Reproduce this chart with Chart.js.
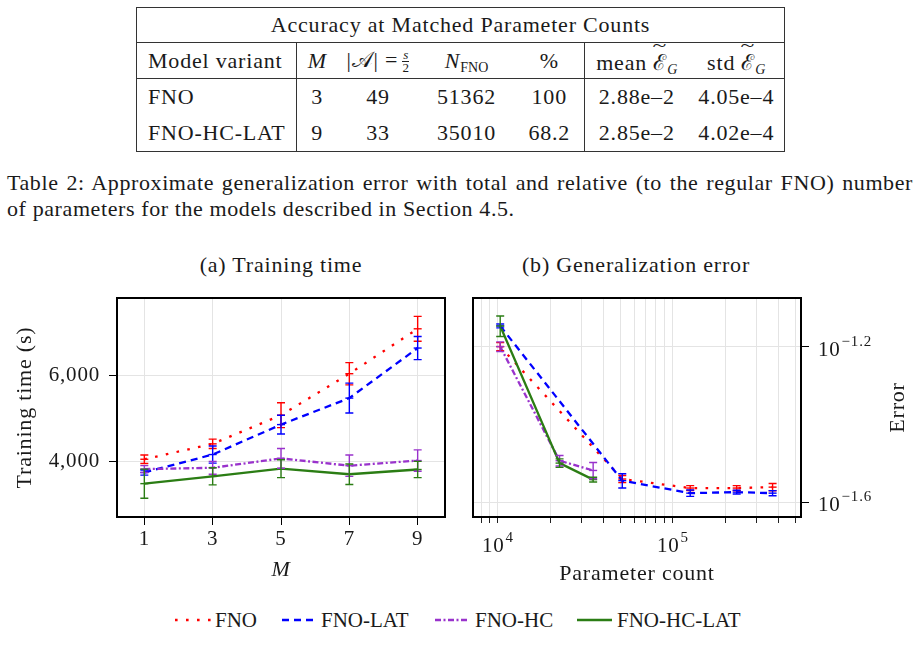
<!DOCTYPE html>
<html>
<head>
<meta charset="utf-8">
<script src="https://cdn.jsdelivr.net/npm/chart.js@4.4.0/dist/chart.umd.min.js"></script>
<style>
  body { margin: 0; width: 918px; height: 661px; background: #fff; position: relative; overflow: hidden;
         font-family: "Liberation Serif", serif; color: #1a1a1a; }
  .abs { position: absolute; }
  table { border-collapse: collapse; font-size: 22px; letter-spacing: 0.8px; table-layout: fixed; }
  td { padding: 0; text-align: center; white-space: nowrap; }
  .tb { border: 1px solid #333; }
  .lft { text-align: left; padding-left: 11px; }
  .vr { border-right: 1px solid #333; }
  .hb { border-bottom: 1px solid #333; }
  sub { font-size: 14px; vertical-align: -4px; line-height: 0; letter-spacing: 0; }
  .fr { display: inline-block; vertical-align: middle; font-size: 13px; line-height: 12px; text-align: center; margin-left: 4px; letter-spacing: 0; }
  .fr i { display: block; border-bottom: 1px solid #222; padding: 0 1px; }
  .fr span { display: block; }
  .tl { position: relative; display: inline-block; }
  .tl::after { content: "~"; position: absolute; left: 0; right: 0; top: -10px; text-align: center; font-size: 17px; transform: scaleX(1.5); }
  #caption { left: 7px; top: 170px; width: 906px; font-size: 22px; line-height: 26px; letter-spacing: 0.6px; }
  #caption .l1 { text-align: justify; text-align-last: justify; }
  .sub-title { font-size: 22px; letter-spacing: 0.8px; top: 252px; white-space: nowrap; transform: translateX(-50%); }
  canvas { position: absolute; }
  .leg { top: 607px; height: 26px; font-size: 21px; line-height: 26px; white-space: nowrap; }
  .leg svg { position: absolute; top: 0; }
</style>
</head>
<body>

<table class="abs tb" style="left:136px; top:7px; width:648px;">
  <colgroup>
    <col style="width:160px"><col style="width:41px"><col style="width:81px"><col style="width:96px">
    <col style="width:70px"><col style="width:104px"><col style="width:96px">
  </colgroup>
  <tr style="height:35px"><td colspan="7" class="hb">Accuracy at Matched Parameter Counts</td></tr>
  <tr style="height:36px" class="hb">
    <td class="lft vr hb">Model variant</td>
    <td class="hb"><i>M</i></td>
    <td class="hb">|𝒜| =<span class="fr"><i>s</i><span>2</span></span></td>
    <td class="hb"><i>N</i><sub>FNO</sub></td>
    <td class="vr hb">%</td>
    <td class="hb">mean <span class="tl">ℰ</span><sub><i>G</i></sub></td>
    <td class="hb">std <span class="tl">ℰ</span><sub><i>G</i></sub></td>
  </tr>
  <tr style="height:36px">
    <td class="lft vr">FNO</td><td>3</td><td>49</td><td>51362</td><td class="vr">100</td><td>2.88e–2</td><td>4.05e–4</td>
  </tr>
  <tr style="height:37px">
    <td class="lft vr">FNO-HC-LAT</td><td>9</td><td>33</td><td>35010</td><td class="vr">68.2</td><td>2.85e–2</td><td>4.02e–4</td>
  </tr>
</table>

<div id="caption" class="abs">
  <div class="l1">Table 2: Approximate generalization error with total and relative (to the regular FNO) number</div>
  <div>of parameters for the models described in Section 4.5.</div>
</div>

<div class="abs sub-title" style="left:281px;">(a) Training time</div>
<div class="abs sub-title" style="left:636px;">(b) Generalization error</div>

<canvas id="timeChart" width="460" height="305" style="left:0; top:285px;"></canvas>
<canvas id="errorChart" width="458" height="305" style="left:460px; top:285px;"></canvas>

<div class="abs leg" style="left:172px;">
  <svg width="40" height="26" style="left:0"><line x1="3" y1="13" x2="40" y2="13" stroke="#ff0000" stroke-width="2.6" stroke-dasharray="2.6 8.4"/></svg>
  <span style="position:absolute; left:43px;">FNO</span>
</div>
<div class="abs leg" style="left:282px;">
  <svg width="32" height="26" style="left:0"><line x1="0" y1="13" x2="31" y2="13" stroke="#0000ff" stroke-width="2.6" stroke-dasharray="7 5"/></svg>
  <span style="position:absolute; left:39px;">FNO-LAT</span>
</div>
<div class="abs leg" style="left:435px;">
  <svg width="35" height="26" style="left:0"><line x1="0" y1="13" x2="34" y2="13" stroke="#9932cc" stroke-width="2.6" stroke-dasharray="6 2.5 2 2.5"/></svg>
  <span style="position:absolute; left:40px;">FNO-HC</span>
</div>
<div class="abs leg" style="left:577px;">
  <svg width="36" height="26" style="left:0"><line x1="0" y1="13" x2="35" y2="13" stroke="#2b7d14" stroke-width="2.6"/></svg>
  <span style="position:absolute; left:40px;">FNO-HC-LAT</span>
</div>

<script>
// (a) temps d'entraînement en fonction de M
var mValues = [1, 3, 5, 7, 9];
var timeTicks = [4000, 6000];
var timeFNO = [4050, 4410, 5080, 6050, 7100];
var timeFNOErr = [100, 110, 290, 260, 290];
var timeLAT = [3740, 4160, 4860, 5480, 6650];
var timeLATErr = [60, 200, 220, 350, 270];
var timeHC = [3820, 3850, 4070, 3900, 4020];
var timeHCErr = [80, 150, 230, 250, 250];
var timeHCLAT = [3480, 3650, 3830, 3700, 3810];
var timeHCLATErr = [340, 200, 210, 240, 190];

// (b) erreur de généralisation en fonction du nombre de paramètres
var paramsFNO = [10300, 51362, 125600, 231600, 371500];
var paramsHC = [10300, 22500, 35010];
var errFNO = [0.0631, 0.0288, 0.0273, 0.0273, 0.02745];
var errFNOStd = [0.0015, 0.0006, 0.0004, 0.0004, 0.0006];
var errLAT = [0.0713, 0.02852, 0.02649, 0.02665, 0.02649];
var errLATStd = [0.0008, 0.0012, 0.0005, 0.0003, 0.0004];
var errHC = [0.0631, 0.0321, 0.0303];
var errHCStd = [0.0018, 0.001, 0.00145];
var errHCLAT = [0.0713, 0.03165, 0.0287];
var errHCLATStd = [0.0043, 0.0008, 0.0004];
var xTickExps = [4, 5];
var yTickExps = [-1.2, -1.6];

var RED = '#ff0000', BLUE = '#0000ff', PURPLE = '#9932cc', GREEN = '#2b7d14';
var SERIF = '"Liberation Serif", serif';
var GRID = '#e4e4e4';

Chart.defaults.font.family = SERIF;
Chart.defaults.font.size = 21;
Chart.defaults.color = '#1a1a1a';

function pts(xs, ys) {
    return xs.map(function (x, i) { return { x: x, y: ys[i] }; });
}

function serie(label, xs, ys, errs, color, dash, order) {
    return {
        label: label,
        data: pts(xs, ys),
        errors: errs,
        showLine: true,
        borderColor: color,
        backgroundColor: color,
        borderWidth: 2.3,
        borderDash: dash,
        pointStyle: 'line',
        pointRadius: 4,
        pointBorderWidth: 1.4,
        pointBorderColor: color,
        order: order
    };
}

// un peu d'espacement des lettres, comme la police LaTeX
var spacing = {
    id: 'spacing',
    beforeDraw: function (chart) { chart.ctx.letterSpacing = '0.8px'; }
};

// cadre noir autour de la zone de tracé
var frame = {
    id: 'frame',
    beforeDatasetsDraw: function (chart) {
        var a = chart.chartArea, ctx = chart.ctx;
        ctx.save();
        ctx.strokeStyle = '#000';
        ctx.lineWidth = 2;
        ctx.strokeRect(a.left, a.top, a.right - a.left, a.bottom - a.top);
        ctx.restore();
    }
};

// barres d'erreur (moyenne +/- écart type)
var errorBars = {
    id: 'errorBars',
    afterDatasetsDraw: function (chart) {
        var ctx = chart.ctx, xs = chart.scales.x, ys = chart.scales.y;
        chart.data.datasets.forEach(function (ds) {
            ctx.save();
            ctx.strokeStyle = ds.borderColor;
            ctx.lineWidth = 1.4;
            ctx.setLineDash([]);
            ds.data.forEach(function (p, i) {
                var e = ds.errors[i];
                var x = xs.getPixelForValue(p.x);
                var y1 = ys.getPixelForValue(p.y + e);
                var y2 = ys.getPixelForValue(p.y - e);
                ctx.beginPath();
                ctx.moveTo(x, y1); ctx.lineTo(x, y2);
                ctx.moveTo(x - 4, y1); ctx.lineTo(x + 4, y1);
                ctx.moveTo(x - 4, y2); ctx.lineTo(x + 4, y2);
                ctx.stroke();
            });
            ctx.restore();
        });
    }
};

function fmtExp(e) {
    return String(e).replace('-', '\u2212');
}

function drawPow(ctx, exp, x, y, align) {
    ctx.save();
    ctx.fillStyle = '#1a1a1a';
    ctx.textBaseline = 'alphabetic';
    ctx.textAlign = 'left';
    ctx.font = '21px ' + SERIF;
    var wb = ctx.measureText('10').width;
    ctx.font = '15px ' + SERIF;
    var s = fmtExp(exp);
    var we = ctx.measureText(s).width;
    var x0 = align === 'center' ? x - (wb + we + 1) / 2 : x;
    ctx.font = '21px ' + SERIF;
    ctx.fillText('10', x0, y);
    ctx.font = '15px ' + SERIF;
    ctx.fillText(s, x0 + wb + 1, y - 10);
    ctx.restore();
}

var powLabels = {
    id: 'powLabels',
    afterDraw: function (chart) {
        var ctx = chart.ctx, xs = chart.scales.x, ys = chart.scales.y, a = chart.chartArea;
        xTickExps.forEach(function (e) {
            drawPow(ctx, e, xs.getPixelForValue(Math.pow(10, e)), a.bottom + 35, 'center');
        });
        yTickExps.forEach(function (e) {
            drawPow(ctx, e, a.right + 17, ys.getPixelForValue(Math.pow(10, e)) + 9, 'left');
        });
        ctx.save();
        ctx.translate(a.right + 97, (a.top + a.bottom) / 2);
        ctx.rotate(-Math.PI / 2);
        ctx.font = '22px ' + SERIF;
        ctx.fillStyle = '#1a1a1a';
        ctx.textAlign = 'center';
        ctx.textBaseline = 'middle';
        ctx.fillText('Error', 0, 0);
        ctx.restore();
    }
};

new Chart(document.getElementById('timeChart'), {
    type: 'scatter',
    data: {
        datasets: [
            serie('FNO', mValues, timeFNO, timeFNOErr, RED, [2.6, 8.4], 4),
            serie('FNO-LAT', mValues, timeLAT, timeLATErr, BLUE, [7, 5], 3),
            serie('FNO-HC', mValues, timeHC, timeHCErr, PURPLE, [6, 2.5, 2, 2.5], 2),
            serie('FNO-HC-LAT', mValues, timeHCLAT, timeHCLATErr, GREEN, [], 1)
        ]
    },
    options: {
        responsive: false,
        animation: false,
        events: [],
        layout: { padding: { top: 13, right: 15, left: 0, bottom: 0 } },
        plugins: { legend: { display: false }, tooltip: { enabled: false } },
        scales: {
            x: {
                type: 'linear',
                min: 0.2,
                max: 9.8,
                afterBuildTicks: function (s) { s.ticks = mValues.map(function (v) { return { value: v }; }); },
                afterFit: function (s) { s.height = 73; s.paddingLeft = 0; s.paddingRight = 0; },
                border: { display: false },
                grid: { color: GRID, tickColor: '#000', tickLength: 8 },
                ticks: { padding: 2, maxRotation: 0, autoSkip: false },
                title: { display: true, text: 'M', font: { style: 'italic', size: 22 }, padding: { top: 0, bottom: 7 } }
            },
            y: {
                type: 'linear',
                min: 2700,
                max: 7820,
                afterBuildTicks: function (s) { s.ticks = timeTicks.map(function (v) { return { value: v }; }); },
                afterFit: function (s) { s.width = 117; s.paddingTop = 0; s.paddingBottom = 0; },
                border: { display: false },
                grid: { color: GRID, tickColor: '#000', tickLength: 8 },
                ticks: { padding: 9, callback: function (v) { return v.toLocaleString('en-US'); } },
                title: { display: true, text: 'Training time (s)', font: { size: 22 }, padding: { top: 12, bottom: 0 } }
            }
        }
    },
    plugins: [spacing, frame, errorBars]
});

new Chart(document.getElementById('errorChart'), {
    type: 'scatter',
    data: {
        datasets: [
            serie('FNO', paramsFNO, errFNO, errFNOStd, RED, [2.6, 8.4], 4),
            serie('FNO-LAT', paramsFNO, errLAT, errLATStd, BLUE, [7, 5], 3),
            serie('FNO-HC', paramsHC, errHC, errHCStd, PURPLE, [6, 2.5, 2, 2.5], 2),
            serie('FNO-HC-LAT', paramsHC, errHCLAT, errHCLATStd, GREEN, [], 1)
        ]
    },
    options: {
        responsive: false,
        animation: false,
        events: [],
        layout: { padding: { top: 13, right: 0, left: 13, bottom: 0 } },
        plugins: { legend: { display: false }, tooltip: { enabled: false } },
        scales: {
            x: {
                type: 'logarithmic',
                min: 7200,
                max: 540000,
                afterBuildTicks: function (s) {
                    var t = [];
                    for (var e = 3; e <= 5; e++) {
                        for (var m = 1; m <= 9; m++) {
                            var v = m * Math.pow(10, e);
                            if (v >= s.min && v <= s.max) t.push({ value: v });
                        }
                    }
                    s.ticks = t;
                },
                afterFit: function (s) { s.height = 73; s.paddingLeft = 0; s.paddingRight = 0; },
                border: { display: false },
                grid: { color: GRID, tickColor: '#222', tickLength: 6 },
                ticks: { autoSkip: false, maxRotation: 0, callback: function () { return ''; } },
                title: { display: true, text: 'Parameter count', font: { size: 22 }, padding: { top: 0, bottom: 3 } }
            },
            y: {
                type: 'logarithmic',
                position: 'right',
                min: Math.pow(10, -1.634),
                max: Math.pow(10, -1.075),
                afterBuildTicks: function (s) {
                    s.ticks = yTickExps.map(function (e) { return { value: Math.pow(10, e) }; });
                },
                afterFit: function (s) { s.width = 117; s.paddingTop = 0; s.paddingBottom = 0; },
                border: { display: false },
                grid: { color: GRID, tickColor: '#000', tickLength: 8 },
                ticks: { callback: function () { return ''; } }
            }
        }
    },
    plugins: [spacing, frame, errorBars, powLabels]
});
</script>
</body>
</html>
